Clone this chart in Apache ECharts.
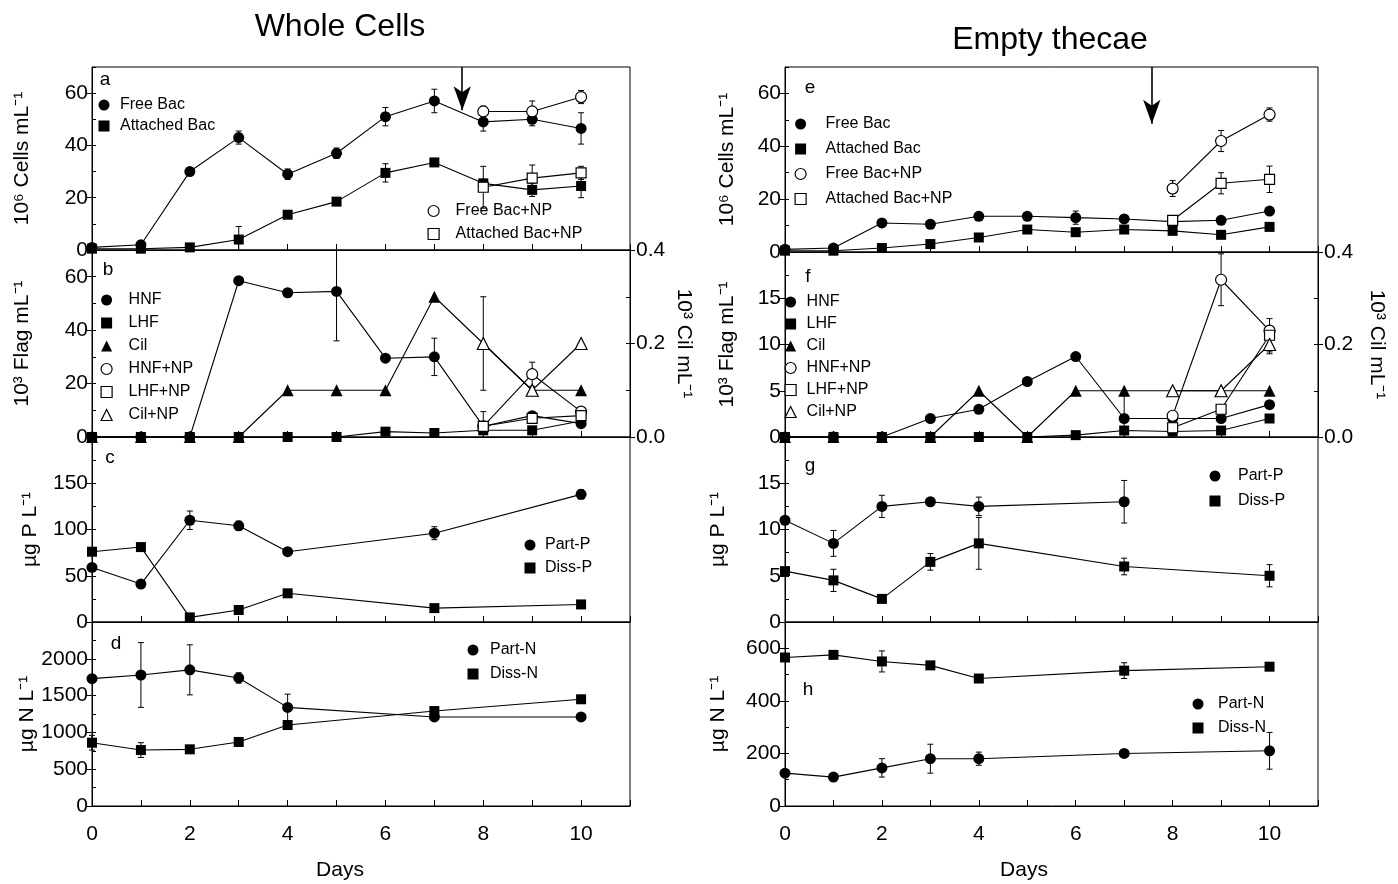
<!DOCTYPE html>
<html><head><meta charset="utf-8">
<script src="https://cdn.jsdelivr.net/npm/echarts@6/dist/echarts.min.js"></script>
<style>html,body{margin:0;padding:0;background:#fff}#c{width:1398px;height:884px}</style>
</head><body><div id="c"></div><script>
const FONT = '"Liberation Sans", Arial, sans-serif';
// ---------- data ----------
const days = [0,1,2,3,4,5,6,7,8,9,10];
const daysNP = [8,9,10];
const daysChem = [0,1,2,3,4,7,10];
const daysPartPg = [0,1,2,3,4,7];
const arrowDay = 7.57;

// panel a (Whole cells, bacteria)
const aFreeBac = [1,2,30,43,29,37,51,57,49,50,46.5];
const aFreeBacErr = [0,1.5,0,2.5,2,2,3.5,4.5,3.5,2.5,6];
const aAttBac = [0.5,0.5,1,4,13.5,18.5,29.5,33.5,25.5,23,24.5];
const aAttBacErr = [0,0,0,5,0,0,3.5,0,0,2.5,4.5];
const aFreeBacNP = [53,53,58.5];
const aFreeBacNPErr = [2,4,2.5];
const aAttBacNP = [24,27.5,29.5];
const aAttBacNPErr = [8,5,2.5];
const aArrowTip = 53.5;

// panel b (Whole cells, flagellates / ciliates)
const bHNF = [0,0,0,58.5,54,54.5,29.5,30,4,8,5];
const bHNFErr = [0,0,0,0,0,18.5,0,7,0,0,0];
const bLHF = [0,0,0,0,0,0,2,1.5,2.5,2.5,6];
const bCil = [0,0,0,0,0.1,0.1,0.1,0.3,0.2,0.1,0.1];
const bHNFNP = [4,23.5,9.5];
const bHNFNPErr = [0,4.5,0];
const bLHFNP = [4,7,8];
const bLHFNPErr = [5.5,0,0];
const bCilNP = [0.2,0.1,0.2];
const bCilNPErr = [0.1,0,0];

// panel c (Whole cells, P)
const cPartP = [59,41,110,104,76,96,138];
const cPartPErr = [0,0,10,5,0,7,5];
const cDissP = [76,81,5,13,31,15,19];

// panel d (Whole cells, N)
const dPartN = [1730,1780,1850,1740,1340,1210,1210];
const dPartNErr = [0,440,340,70,180,0,0];
const dDissN = [860,760,770,870,1100,1290,1450];
const dDissNErr = [100,100,0,0,0,0,0];

// panel e (Empty thecae, bacteria)
const eFreeBac = [1,1.5,11,10.5,13.5,13.5,13,12.5,11.5,12,15.5];
const eFreeBacErr = [0,0,0,1,0,0,2.5,0,0,0,0];
const eAttBac = [0.5,0.5,1.5,3,5.5,8.5,7.5,8.5,8,6.5,9.5];
const eFreeBacNP = [24,42,52];
const eFreeBacNPErr = [3,4,2.5];
const eAttBacNP = [12,26,27.5];
const eAttBacNPErr = [0,4,5];
const eArrowTip = 48.5;

// panel f (Empty thecae, flagellates / ciliates)
const fHNF = [0,0,0,2,3,6,8.7,2,2,2,3.5];
const fHNFErr = [0,0.5,0,0,0,0,0,3,0,0,0];
const fLHF = [0,0,0,0,0,0,0.2,0.7,0.6,0.7,2];
const fCil = [0,0,0,0,0.1,0,0.1,0.1,0.1,0.1,0.1];
const fHNFNP = [2.3,17,11.5];
const fHNFNPErr = [0,2.8,0];
const fLHFNP = [1,3,11];
const fLHFNPErr = [0,0,1.8];
const fCilNP = [0.1,0.1,0.2];
const fCilNPErr = [0,0,0.02];

// panel g (Empty thecae, P)
const gPartP = [11,8.5,12.5,13,12.5,13];
const gPartPErr = [0,1.4,1.2,0,1,2.3];
const gDissP = [5.5,4.5,2.5,6.5,8.5,6,5];
const gDissPErr = [0,1.2,0,0.9,2.8,0.9,1.2];

// panel h (Empty thecae, N)
const hPartN = [125,110,145,180,180,200,210];
const hPartNErr = [0,0,35,55,25,0,70];
const hDissN = [565,575,550,535,485,515,530];
const hDissNErr = [0,0,40,0,12,30,0];

// ---------- helpers ----------
const pts = (xs, ys) => xs.map((x,i)=>[x, ys[i]]);
const errPts = (xs, ys, es) => xs.map((x,i)=>[x, ys[i], es[i]]).filter(d=>d[2]>0);
const SHAPES = {
  circle: {symbol:'circle', size:11},
  rect: {symbol:'rect', size:10},
  triangle: {symbol:'triangle', size:12}
};
function line(name, xs, ys, g, yi, shape, open, extra) {
  const s = {
    type:'line', name, xAxisIndex:g, yAxisIndex:yi, data: pts(xs, ys),
    symbol: SHAPES[shape].symbol, symbolSize: SHAPES[shape].size,
    showAllSymbol:true, z: open ? 4 : 3,
    lineStyle:{color:'#000', width:1.1},
    itemStyle: open ? {color:'#fff', borderColor:'#000', borderWidth:1.2} : {color:'#000', borderColor:'#000', borderWidth:0},
    emphasis:{disabled:true}, silent:true
  };
  return Object.assign(s, extra||{});
}
function errs(xs, ys, es, g, yi) {
  return {
    type:'custom', xAxisIndex:g, yAxisIndex:yi, data: errPts(xs, ys, es), z:2, silent:true,
    renderItem: (params, api) => {
      const x = api.value(0), y = api.value(1), e = api.value(2);
      const top = api.coord([x, y + e]), bot = api.coord([x, y - e]);
      const cs = params.coordSys;
      const t = Math.max(top[1], cs.y), b = Math.min(bot[1], cs.y + cs.height);
      const st = {stroke:'#000', lineWidth:1};
      const ch = [{type:'line', shape:{x1:top[0], y1:t, x2:top[0], y2:b}, style:st}];
      if (top[1] >= cs.y) ch.push({type:'line', shape:{x1:top[0]-3, y1:t, x2:top[0]+3, y2:t}, style:st});
      if (bot[1] <= cs.y + cs.height) ch.push({type:'line', shape:{x1:top[0]-3, y1:b, x2:top[0]+3, y2:b}, style:st});
      return {type:'group', children: ch};
    }
  };
}
function arrow(day, tip, top) {
  return {
    silent:true, animation:false, label:{show:false},
    lineStyle:{color:'#000', type:'solid', width:1.6},
    symbolSize:[13,24],
    data:[[{coord:[day, top], symbol:'none'},{coord:[day, tip], symbol:'arrow'}]]
  };
}

// ---------- layout ----------
const GRIDS = [
 {left:92, top:67, width:538, height:183},
 {left:92, top:250, width:538, height:187},
 {left:92, top:437, width:538, height:185},
 {left:92, top:622, width:538, height:184},
 {left:785, top:67, width:533, height:185},
 {left:785, top:252, width:533, height:185},
 {left:785, top:437, width:533, height:185},
 {left:785, top:622, width:533, height:184}
];
const txt = {color:'#000', fontFamily:FONT};
const xAxes = GRIDS.map((g,i) => ({
  gridIndex:i, type:'value', min:0, max:11, interval:1,
  axisLine:{lineStyle:{color:'#000', width:1}},
  axisTick:{inside:true, length:6, lineStyle:{color:'#000'}},
  splitLine:{show:false},
  axisLabel:{show: i===3 || i===7, fontSize:21, margin:18, ...txt, formatter: v => v % 2 === 0 ? String(v) : ''}
}));
const Y = [
  {min:0, max:70, interval:20, name:'10⁶ Cells mL⁻¹', gap:59},
  {min:0, max:70, interval:20, name:'10³ Flag mL⁻¹', gap:59},
  {min:0, max:200, interval:50, name:'µg P L⁻¹', gap:51},
  {min:0, max:2500, interval:500, name:'µg N L⁻¹', gap:51},
  {min:0, max:70, interval:20, name:'10⁶ Cells mL⁻¹', gap:47},
  {min:0, max:20, interval:5, name:'10³ Flag mL⁻¹', gap:47},
  {min:0, max:20, interval:5, name:'µg P L⁻¹', gap:56},
  {min:0, max:700, interval:200, name:'µg N L⁻¹', gap:56}
];
const yAxes = Y.map((y,i) => ({
  gridIndex:i, type:'value', min:y.min, max:y.max, interval:y.interval, position:'left',
  axisLine:{show:true, lineStyle:{color:'#000'}},
  axisTick:{show:true, inside:false, length:5, lineStyle:{color:'#000'}},
  splitLine:{show:false},
  axisLabel:{fontSize:21, margin:4, showMaxLabel:false, ...txt, formatter: v => String(v)},
  name:y.name, nameLocation:'middle', nameGap: y.gap,
  nameTextStyle:{fontSize:21, ...txt}
}));
[[1,43],[5,48]].forEach(([g,gap]) => yAxes.push({
  gridIndex:g, type:'value', min:0, max:0.4, interval:0.2, position:'right',
  axisLine:{show:true, lineStyle:{color:'#000'}},
  axisTick:{show:true, inside:false, length:5, lineStyle:{color:'#000'}},
  splitLine:{show:false},
  axisLabel:{fontSize:21, margin:6, ...txt, formatter: v => v.toFixed(1)},
  name:'10³ Cil mL⁻¹', nameLocation:'middle', nameGap:gap, nameRotate:-90,
  nameTextStyle:{fontSize:21, ...txt}
}));
// inner half-step ticks (no labels)
const innerTicks = (g, min, max, step, pos) => ({
  gridIndex:g, type:'value', min, max, interval:step, position:pos,
  axisLine:{show:false}, axisLabel:{show:false}, splitLine:{show:false},
  axisTick:{show:true, inside:true, length:4, lineStyle:{color:'#000'}}
});
Y.forEach((y,i) => yAxes.push(innerTicks(i, y.min, y.max, y.interval/2, 'left')));
[1,5].forEach(g => yAxes.push(innerTicks(g, 0, 0.4, 0.1, 'right')));

// ---------- series ----------
const series = [
  // a
  line('Free Bac', days, aFreeBac, 0, 0, 'circle', false, {markLine: arrow(arrowDay, aArrowTip, 70)}),
  line('Attached Bac', days, aAttBac, 0, 0, 'rect', false),
  line('Free Bac+NP', daysNP, aFreeBacNP, 0, 0, 'circle', true),
  line('Attached Bac+NP', daysNP, aAttBacNP, 0, 0, 'rect', true),
  errs(days, aFreeBac, aFreeBacErr, 0, 0), errs(days, aAttBac, aAttBacErr, 0, 0),
  errs(daysNP, aFreeBacNP, aFreeBacNPErr, 0, 0), errs(daysNP, aAttBacNP, aAttBacNPErr, 0, 0),
  // b
  line('HNF', days, bHNF, 1, 1, 'circle', false),
  line('LHF', days, bLHF, 1, 1, 'rect', false),
  line('Cil', days, bCil, 1, 8, 'triangle', false),
  line('HNF+NP', daysNP, bHNFNP, 1, 1, 'circle', true),
  line('LHF+NP', daysNP, bLHFNP, 1, 1, 'rect', true),
  line('Cil+NP', daysNP, bCilNP, 1, 8, 'triangle', true),
  errs(days, bHNF, bHNFErr, 1, 1), errs(daysNP, bHNFNP, bHNFNPErr, 1, 1),
  errs(daysNP, bLHFNP, bLHFNPErr, 1, 1), errs(daysNP, bCilNP, bCilNPErr, 1, 8),
  // c
  line('Part-P', daysChem, cPartP, 2, 2, 'circle', false),
  line('Diss-P', daysChem, cDissP, 2, 2, 'rect', false),
  errs(daysChem, cPartP, cPartPErr, 2, 2),
  // d
  line('Part-N', daysChem, dPartN, 3, 3, 'circle', false),
  line('Diss-N', daysChem, dDissN, 3, 3, 'rect', false),
  errs(daysChem, dPartN, dPartNErr, 3, 3), errs(daysChem, dDissN, dDissNErr, 3, 3),
  // e
  line('Free Bac', days, eFreeBac, 4, 4, 'circle', false, {markLine: arrow(arrowDay, eArrowTip, 70)}),
  line('Attached Bac', days, eAttBac, 4, 4, 'rect', false),
  line('Free Bac+NP', daysNP, eFreeBacNP, 4, 4, 'circle', true),
  line('Attached Bac+NP', daysNP, eAttBacNP, 4, 4, 'rect', true),
  errs(days, eFreeBac, eFreeBacErr, 4, 4), errs(daysNP, eFreeBacNP, eFreeBacNPErr, 4, 4),
  errs(daysNP, eAttBacNP, eAttBacNPErr, 4, 4),
  // f
  line('HNF', days, fHNF, 5, 5, 'circle', false),
  line('LHF', days, fLHF, 5, 5, 'rect', false),
  line('Cil', days, fCil, 5, 9, 'triangle', false),
  line('HNF+NP', daysNP, fHNFNP, 5, 5, 'circle', true),
  line('LHF+NP', daysNP, fLHFNP, 5, 5, 'rect', true),
  line('Cil+NP', daysNP, fCilNP, 5, 9, 'triangle', true),
  errs(days, fHNF, fHNFErr, 5, 5),
  errs(daysNP, fHNFNP, fHNFNPErr, 5, 5), errs(daysNP, fLHFNP, fLHFNPErr, 5, 5),
  errs(daysNP, fCilNP, fCilNPErr, 5, 9),
  // g
  line('Part-P', daysPartPg, gPartP, 6, 6, 'circle', false),
  line('Diss-P', daysChem, gDissP, 6, 6, 'rect', false),
  errs(daysPartPg, gPartP, gPartPErr, 6, 6), errs(daysChem, gDissP, gDissPErr, 6, 6),
  // h
  line('Part-N', daysChem, hPartN, 7, 7, 'circle', false),
  line('Diss-N', daysChem, hDissN, 7, 7, 'rect', false),
  errs(daysChem, hPartN, hPartNErr, 7, 7), errs(daysChem, hDissN, hDissNErr, 7, 7)
];

// ---------- legends ----------
const OPEN = {color:'#fff', borderColor:'#000', borderWidth:1.2};
const FILL = {color:'#000', borderColor:'#000', borderWidth:0};
const item = (name, icon, open) => ({name, icon, itemStyle: open ? OPEN : FILL});
function legend(cx, top, gap, pad, items) {
  return {
    orient:'vertical', left: cx - 5.5, top, padding:0, itemWidth:11, itemHeight:11, itemGap:gap,
    selectedMode:false, data: items,
    textStyle:{fontSize:16, ...txt, padding:[0,0,0,pad]}
  };
}
const legends = [
  legend(104, 97, 5, 5.5, [item('Free Bac','circle'), item('Attached Bac','rect')]),
  legend(433, 203, 7, 11.5, [item('Free Bac+NP','circle',true), item('Attached Bac+NP','rect',true)]),
  legend(106, 292, 7, 11.5, [item('HNF','circle'), item('LHF','rect'), item('Cil','triangle'),
                           item('HNF+NP','circle',true), item('LHF+NP','rect',true), item('Cil+NP','triangle',true)]),
  legend(530, 537, 7, 4.5, [item('Part-P','circle'), item('Diss-P','rect')]),
  legend(473, 642, 8, 6.5, [item('Part-N','circle'), item('Diss-N','rect')]),
  legend(800, 116, 9, 14.5, [item('Free Bac','circle'), item('Attached Bac','rect'),
                           item('Free Bac+NP','circle',true), item('Attached Bac+NP','rect',true)]),
  legend(790, 294, 6, 5.5, [item('HNF','circle'), item('LHF','rect'), item('Cil','triangle'),
                          item('HNF+NP','circle',true), item('LHF+NP','rect',true), item('Cil+NP','triangle',true)]),
  legend(1215, 468, 9, 12.5, [item('Part-P','circle'), item('Diss-P','rect')]),
  legend(1198, 696, 8, 9.5, [item('Part-N','circle'), item('Diss-N','rect')])
];

// ---------- text ----------
const T = (text, x, y, size) => ({type:'text', x, y, silent:true,
  style:{text, fill:'#000', font: size + 'px ' + FONT, align:'center', verticalAlign:'middle'}});
const graphic = [
  T('Whole Cells', 340, 27, 32),
  T('Empty thecae', 1050, 40, 32),
  T('Days', 340, 870, 21),
  T('Days', 1024, 870, 21),
  T('a', 105, 80, 19), T('b', 108, 270, 19), T('c', 110, 458, 19), T('d', 116, 644, 19),
  T('e', 810, 88, 19), T('f', 808, 277, 19), T('g', 810, 466, 19), T('h', 808, 690, 19)
];

const chart = echarts.init(document.getElementById('c'), null, {renderer:'canvas'});
chart.setOption({
  animation:false,
  backgroundColor:'#fff',
  grid: GRIDS.map(g => Object.assign({show:true, borderColor:'#000', borderWidth:1, backgroundColor:'transparent'}, g)),
  xAxis: xAxes, yAxis: yAxes, series, legend: legends, graphic
});
</script></body></html>
